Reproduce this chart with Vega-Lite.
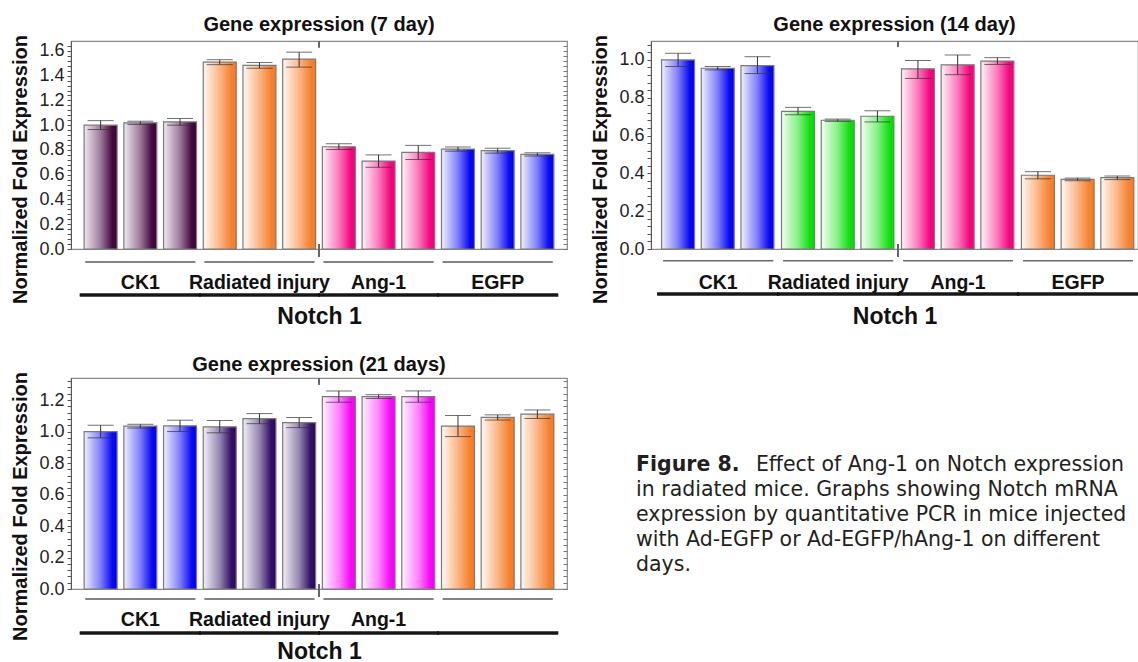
{
  "$schema": "https://vega.github.io/schema/vega-lite/v6.json",
  "background": "white",
  "padding": {"left": 10, "top": 13, "right": 0, "bottom": 0},
  "config": {
    "font": "Liberation Sans",
    "view": {"stroke": "#8a8a8a", "strokeWidth": 1.2},
    "axis": {"grid": false, "labelFont": "Liberation Sans", "titleFont": "Liberation Sans"},
    "title": {"fontSize": 20, "fontWeight": "bold", "color": "#111111", "offset": 0, "frame": "group", "font": "Liberation Sans"}
  },
  "datasets": {
    "d7": [
      {"group": "CK1", "rep": "1", "v": 1.0, "lo": 0.965, "hi": 1.037, "color": "plum"},
      {"group": "CK1", "rep": "2", "v": 1.019, "lo": 1.006, "hi": 1.032, "color": "plum"},
      {"group": "CK1", "rep": "3", "v": 1.026, "lo": 1.0, "hi": 1.054, "color": "plum"},
      {"group": "Radiated injury", "rep": "1", "v": 1.509, "lo": 1.489, "hi": 1.529, "color": "orange"},
      {"group": "Radiated injury", "rep": "2", "v": 1.483, "lo": 1.46, "hi": 1.506, "color": "orange"},
      {"group": "Radiated injury", "rep": "3", "v": 1.533, "lo": 1.469, "hi": 1.59, "color": "orange"},
      {"group": "Ang-1", "rep": "1", "v": 0.826, "lo": 0.803, "hi": 0.85, "color": "pink"},
      {"group": "Ang-1", "rep": "2", "v": 0.71, "lo": 0.66, "hi": 0.76, "color": "pink"},
      {"group": "Ang-1", "rep": "3", "v": 0.78, "lo": 0.723, "hi": 0.837, "color": "pink"},
      {"group": "EGFP", "rep": "1", "v": 0.807, "lo": 0.79, "hi": 0.824, "color": "blue"},
      {"group": "EGFP", "rep": "2", "v": 0.794, "lo": 0.774, "hi": 0.814, "color": "blue"},
      {"group": "EGFP", "rep": "3", "v": 0.764, "lo": 0.751, "hi": 0.777, "color": "blue"}
    ],
    "d14": [
      {"group": "CK1", "rep": "1", "v": 1.0, "lo": 0.965, "hi": 1.035, "color": "blue"},
      {"group": "CK1", "rep": "2", "v": 0.956, "lo": 0.947, "hi": 0.965, "color": "blue"},
      {"group": "CK1", "rep": "3", "v": 0.97, "lo": 0.928, "hi": 1.017, "color": "blue"},
      {"group": "Radiated injury", "rep": "1", "v": 0.728, "lo": 0.71, "hi": 0.749, "color": "green"},
      {"group": "Radiated injury", "rep": "2", "v": 0.681, "lo": 0.675, "hi": 0.687, "color": "green"},
      {"group": "Radiated injury", "rep": "3", "v": 0.702, "lo": 0.672, "hi": 0.731, "color": "green"},
      {"group": "Ang-1", "rep": "1", "v": 0.953, "lo": 0.902, "hi": 0.997, "color": "pink"},
      {"group": "Ang-1", "rep": "2", "v": 0.974, "lo": 0.922, "hi": 1.026, "color": "pink"},
      {"group": "Ang-1", "rep": "3", "v": 0.994, "lo": 0.976, "hi": 1.012, "color": "pink"},
      {"group": "EGFP", "rep": "1", "v": 0.39, "lo": 0.371, "hi": 0.409, "color": "orange"},
      {"group": "EGFP", "rep": "2", "v": 0.368, "lo": 0.361, "hi": 0.375, "color": "orange"},
      {"group": "EGFP", "rep": "3", "v": 0.377, "lo": 0.367, "hi": 0.386, "color": "orange"}
    ],
    "d21": [
      {"group": "CK1", "rep": "1", "v": 1.0, "lo": 0.96, "hi": 1.04, "color": "blue"},
      {"group": "CK1", "rep": "2", "v": 1.034, "lo": 1.022, "hi": 1.046, "color": "blue"},
      {"group": "CK1", "rep": "3", "v": 1.036, "lo": 1.0, "hi": 1.072, "color": "blue"},
      {"group": "Radiated injury", "rep": "1", "v": 1.03, "lo": 0.992, "hi": 1.07, "color": "indigo"},
      {"group": "Radiated injury", "rep": "2", "v": 1.082, "lo": 1.05, "hi": 1.114, "color": "indigo"},
      {"group": "Radiated injury", "rep": "3", "v": 1.057, "lo": 1.025, "hi": 1.089, "color": "indigo"},
      {"group": "Ang-1", "rep": "1", "v": 1.222, "lo": 1.186, "hi": 1.258, "color": "magenta"},
      {"group": "Ang-1", "rep": "2", "v": 1.222, "lo": 1.21, "hi": 1.234, "color": "magenta"},
      {"group": "Ang-1", "rep": "3", "v": 1.222, "lo": 1.186, "hi": 1.258, "color": "magenta"},
      {"group": "EGFP", "rep": "1", "v": 1.035, "lo": 0.968, "hi": 1.102, "color": "orange"},
      {"group": "EGFP", "rep": "2", "v": 1.09, "lo": 1.073, "hi": 1.106, "color": "orange"},
      {"group": "EGFP", "rep": "3", "v": 1.11, "lo": 1.083, "hi": 1.137, "color": "orange"}
    ],
    "caption": [
      {"line": 1, "side": "left", "w": "bold", "text": "Figure 8."},
      {"line": 1, "side": "right", "w": "normal", "text": "Effect of Ang-1 on Notch expression"},
      {"line": 2, "side": "left", "w": "normal", "text": "in radiated mice. Graphs showing Notch mRNA"},
      {"line": 3, "side": "left", "w": "normal", "text": "expression by quantitative PCR in mice injected"},
      {"line": 4, "side": "left", "w": "normal", "text": "with Ad-EGFP or Ad-EGFP/hAng-1 on different"},
      {"line": 5, "side": "left", "w": "normal", "text": "days."}
    ]
  },
  "spacing": 23,
  "vconcat": [
    {
      "spacing": 21,
      "hconcat": [
        {
          "width": 496, "height": 208,
          "title": {"text": "Gene expression (7 day)", "offset": 0},
          "data": {"name": "d7"},
          "encoding": {
            "x": {"field": "group", "type": "nominal", "sort": null,
              "scale": {"paddingInner": 0, "paddingOuter": 0.082},
              "axis": {"title": "Notch 1", "titleFontSize": 23, "titleFontWeight": "bold", "titleColor": "#111111", "titlePadding": 14,
                "labelFontSize": 19.5, "labelFontWeight": "bold", "labelColor": "#111111", "labelPadding": 24, "labelAngle": 0,
                "domain": false, "ticks": false, "tickSize": 0}}
          },
          "layer": [
            {"mark": {"type": "bar", "stroke": "#7a7a7a", "strokeWidth": 1.2},
             "encoding": {
               "xOffset": {"field": "rep", "type": "nominal", "scale": {"paddingInner": 0.17, "paddingOuter": 0.085}},
               "y": {"field": "v", "type": "quantitative", "scale": {"domain": [0, 1.68], "nice": false},
                 "axis": {"orient": "left", "title": "Normalized Fold Expression", "titleFontSize": 20, "titleFontWeight": "bold", "titleColor": "#111111", "titlePadding": 8, "titleY": 128,
                   "values": [0,0.04,0.08,0.12,0.16,0.2,0.24,0.28,0.32,0.36,0.4,0.44,0.48,0.52,0.56,0.6,0.64,0.68,0.72,0.76,0.8,0.84,0.88,0.92,0.96,1,1.04,1.08,1.12,1.16,1.2,1.24,1.28,1.32,1.36,1.4,1.44,1.48,1.52,1.56,1.6,1.64],
                   "labelExpr": "abs(datum.value*5-round(datum.value*5))<0.001 ? format(datum.value,'.1f') : ''",
                   "labelOverlap": false, "labelFontSize": 18, "labelColor": "#222222", "labelPadding": 3,
                   "tickSize": 4, "tickColor": "#555555", "domainColor": "#555555"}},
               "fill": {"condition": [
                 {"test": "datum.color==='plum'", "value": {"gradient": "linear", "x1": 0, "y1": 0, "x2": 1, "y2": 0, "stops": [{"offset": 0, "color": "#f1eaf1"}, {"offset": 0.5, "color": "#9b7a99"}, {"offset": 0.85, "color": "#45093f"}, {"offset": 1, "color": "#3a0535"}]}},
                 {"test": "datum.color==='orange'", "value": {"gradient": "linear", "x1": 0, "y1": 0, "x2": 1, "y2": 0, "stops": [{"offset": 0, "color": "#fff8f2"}, {"offset": 0.5, "color": "#fcb585"}, {"offset": 0.85, "color": "#f7822f"}, {"offset": 1, "color": "#f47a28"}]}},
                 {"test": "datum.color==='pink'", "value": {"gradient": "linear", "x1": 0, "y1": 0, "x2": 1, "y2": 0, "stops": [{"offset": 0, "color": "#fff2f8"}, {"offset": 0.5, "color": "#ff79bb"}, {"offset": 0.85, "color": "#f5087f"}, {"offset": 1, "color": "#f00078"}]}}
               ], "value": {"gradient": "linear", "x1": 0, "y1": 0, "x2": 1, "y2": 0, "stops": [{"offset": 0, "color": "#f0f0ff"}, {"offset": 0.5, "color": "#7d7dff"}, {"offset": 0.85, "color": "#0a0af5"}, {"offset": 1, "color": "#0000ee"}]}}
             }},
            {"mark": {"type": "rule", "color": "#333333", "strokeWidth": 1},
             "encoding": {
               "xOffset": {"field": "rep", "type": "nominal", "scale": {"paddingInner": 0.17, "paddingOuter": 0.085}},
               "y": {"field": "lo", "type": "quantitative", "scale": {"domain": [0, 1.68], "nice": false},
                 "axis": {"orient": "right", "title": null, "labels": false, "domain": false, "tickSize": -4, "tickColor": "#777777",
                   "values": [0,0.04,0.08,0.12,0.16,0.2,0.24,0.28,0.32,0.36,0.4,0.44,0.48,0.52,0.56,0.6,0.64,0.68,0.72,0.76,0.8,0.84,0.88,0.92,0.96,1,1.04,1.08,1.12,1.16,1.2,1.24,1.28,1.32,1.36,1.4,1.44,1.48,1.52,1.56,1.6,1.64]}},
               "y2": {"field": "hi"}
             }},
            {"mark": {"type": "tick", "color": "#333333", "thickness": 1, "size": 26},
             "encoding": {
               "xOffset": {"field": "rep", "type": "nominal", "scale": {"paddingInner": 0.17, "paddingOuter": 0.085}},
               "y": {"field": "lo", "type": "quantitative", "scale": {"domain": [0, 1.68], "nice": false}, "axis": null}
             }},
            {"mark": {"type": "tick", "color": "#333333", "thickness": 1, "size": 26},
             "encoding": {
               "xOffset": {"field": "rep", "type": "nominal", "scale": {"paddingInner": 0.17, "paddingOuter": 0.085}},
               "y": {"field": "hi", "type": "quantitative", "scale": {"domain": [0, 1.68], "nice": false}, "axis": null}
             }},
            {"mark": {"type": "tick", "color": "#555555", "thickness": 1, "size": 110},
             "encoding": {"y": {"datum": -0.105, "type": "quantitative", "scale": {"domain": [0, 1.68], "nice": false}, "axis": null}}},
            {"mark": {"type": "tick", "color": "#111111", "thickness": 3, "size": 121},
             "encoding": {"y": {"datum": -0.372, "type": "quantitative", "scale": {"domain": [0, 1.68], "nice": false}, "axis": null}}},
            {"mark": {"type": "rule", "color": "#666666", "strokeWidth": 1},
             "encoding": {"x": {"datum": "Ang-1", "type": "nominal", "bandPosition": 0},
               "y": {"datum": 1.68, "type": "quantitative", "scale": {"domain": [0, 1.68], "nice": false}, "axis": null}, "y2": {"datum": 1.63}}},
            {"mark": {"type": "rule", "color": "#666666", "strokeWidth": 1},
             "encoding": {"x": {"datum": "Ang-1", "type": "nominal", "bandPosition": 0},
               "y": {"datum": 0.04, "type": "quantitative", "scale": {"domain": [0, 1.68], "nice": false}, "axis": null}, "y2": {"datum": -0.06}}}
          ],
          "resolve": {"axis": {"y": "independent"}}
        },
        {
          "width": 487, "height": 208,
          "title": {"text": "Gene expression (14 day)", "offset": 0},
          "data": {"name": "d14"},
          "encoding": {
            "x": {"field": "group", "type": "nominal", "sort": null,
              "scale": {"paddingInner": 0, "paddingOuter": 0.03, "align": 1},
              "axis": {"title": "Notch 1", "titleFontSize": 23, "titleFontWeight": "bold", "titleColor": "#111111", "titlePadding": 14,
                "labelFontSize": 19.5, "labelFontWeight": "bold", "labelColor": "#111111", "labelPadding": 24, "labelAngle": 0,
                "domain": false, "ticks": false, "tickSize": 0}}
          },
          "layer": [
            {"mark": {"type": "bar", "stroke": "#7a7a7a", "strokeWidth": 1.2},
             "encoding": {
               "xOffset": {"field": "rep", "type": "nominal", "scale": {"paddingInner": 0.17, "paddingOuter": 0.085}},
               "y": {"field": "v", "type": "quantitative", "scale": {"domain": [0, 1.1], "nice": false},
                 "axis": {"orient": "left", "title": "Normalized Fold Expression", "titleFontSize": 20, "titleFontWeight": "bold", "titleColor": "#111111", "titlePadding": 8, "titleY": 128,
                   "values": [0,0.04,0.08,0.12,0.16,0.2,0.24,0.28,0.32,0.36,0.4,0.44,0.48,0.52,0.56,0.6,0.64,0.68,0.72,0.76,0.8,0.84,0.88,0.92,0.96,1,1.04,1.08],
                   "labelExpr": "abs(datum.value*5-round(datum.value*5))<0.001 ? format(datum.value,'.1f') : ''",
                   "labelOverlap": false, "labelFontSize": 18, "labelColor": "#222222", "labelPadding": 3,
                   "tickSize": 4, "tickColor": "#555555", "domainColor": "#555555"}},
               "fill": {"condition": [
                 {"test": "datum.color==='green'", "value": {"gradient": "linear", "x1": 0, "y1": 0, "x2": 1, "y2": 0, "stops": [{"offset": 0, "color": "#f0fff0"}, {"offset": 0.5, "color": "#84f284"}, {"offset": 0.85, "color": "#12e012"}, {"offset": 1, "color": "#00dc00"}]}},
                 {"test": "datum.color==='orange'", "value": {"gradient": "linear", "x1": 0, "y1": 0, "x2": 1, "y2": 0, "stops": [{"offset": 0, "color": "#fff8f2"}, {"offset": 0.5, "color": "#fcb585"}, {"offset": 0.85, "color": "#f7822f"}, {"offset": 1, "color": "#f47a28"}]}},
                 {"test": "datum.color==='pink'", "value": {"gradient": "linear", "x1": 0, "y1": 0, "x2": 1, "y2": 0, "stops": [{"offset": 0, "color": "#fff2f8"}, {"offset": 0.5, "color": "#ff79bb"}, {"offset": 0.85, "color": "#f5087f"}, {"offset": 1, "color": "#f00078"}]}}
               ], "value": {"gradient": "linear", "x1": 0, "y1": 0, "x2": 1, "y2": 0, "stops": [{"offset": 0, "color": "#f0f0ff"}, {"offset": 0.5, "color": "#7d7dff"}, {"offset": 0.85, "color": "#0a0af5"}, {"offset": 1, "color": "#0000ee"}]}}
             }},
            {"mark": {"type": "rule", "color": "#333333", "strokeWidth": 1},
             "encoding": {
               "xOffset": {"field": "rep", "type": "nominal", "scale": {"paddingInner": 0.17, "paddingOuter": 0.085}},
               "y": {"field": "lo", "type": "quantitative", "scale": {"domain": [0, 1.1], "nice": false}, "axis": null},
               "y2": {"field": "hi"}
             }},
            {"mark": {"type": "tick", "color": "#333333", "thickness": 1, "size": 26},
             "encoding": {
               "xOffset": {"field": "rep", "type": "nominal", "scale": {"paddingInner": 0.17, "paddingOuter": 0.085}},
               "y": {"field": "lo", "type": "quantitative", "scale": {"domain": [0, 1.1], "nice": false}, "axis": null}
             }},
            {"mark": {"type": "tick", "color": "#333333", "thickness": 1, "size": 26},
             "encoding": {
               "xOffset": {"field": "rep", "type": "nominal", "scale": {"paddingInner": 0.17, "paddingOuter": 0.085}},
               "y": {"field": "hi", "type": "quantitative", "scale": {"domain": [0, 1.1], "nice": false}, "axis": null}
             }},
            {"mark": {"type": "tick", "color": "#555555", "thickness": 1, "size": 110},
             "encoding": {"y": {"datum": -0.062, "type": "quantitative", "scale": {"domain": [0, 1.1], "nice": false}, "axis": null}}},
            {"mark": {"type": "tick", "color": "#111111", "thickness": 3, "size": 122},
             "encoding": {"y": {"datum": -0.238, "type": "quantitative", "scale": {"domain": [0, 1.1], "nice": false}, "axis": null}}},
            {"mark": {"type": "rule", "color": "#666666", "strokeWidth": 1},
             "encoding": {"x": {"datum": "Ang-1", "type": "nominal", "bandPosition": 0},
               "y": {"datum": 1.1, "type": "quantitative", "scale": {"domain": [0, 1.1], "nice": false}, "axis": null}, "y2": {"datum": 1.07}}},
            {"mark": {"type": "rule", "color": "#666666", "strokeWidth": 1},
             "encoding": {"x": {"datum": "Ang-1", "type": "nominal", "bandPosition": 0},
               "y": {"datum": 0.025, "type": "quantitative", "scale": {"domain": [0, 1.1], "nice": false}, "axis": null}, "y2": {"datum": -0.04}}}
          ],
          "resolve": {"axis": {"y": "independent"}}
        }
      ]
    },
    {
      "spacing": 67,
      "hconcat": [
        {
          "width": 496, "height": 211,
          "title": {"text": "Gene expression (21 days)", "offset": -3},
          "data": {"name": "d21"},
          "encoding": {
            "x": {"field": "group", "type": "nominal", "sort": null,
              "scale": {"paddingInner": 0, "paddingOuter": 0.082},
              "axis": {"title": "Notch 1", "titleFontSize": 23, "titleFontWeight": "bold", "titleColor": "#111111", "titlePadding": 12,
                "labelExpr": "datum.value==='EGFP' ? '' : datum.value",
                "labelFontSize": 19.5, "labelFontWeight": "bold", "labelColor": "#111111", "labelPadding": 21, "labelAngle": 0,
                "domain": false, "ticks": false, "tickSize": 0}}
          },
          "layer": [
            {"mark": {"type": "bar", "stroke": "#7a7a7a", "strokeWidth": 1.2},
             "encoding": {
               "xOffset": {"field": "rep", "type": "nominal", "scale": {"paddingInner": 0.17, "paddingOuter": 0.085}},
               "y": {"field": "v", "type": "quantitative", "scale": {"domain": [0, 1.34], "nice": false},
                 "axis": {"orient": "left", "title": "Normalized Fold Expression", "titleFontSize": 20, "titleFontWeight": "bold", "titleColor": "#111111", "titlePadding": 8, "titleY": 128,
                   "values": [0,0.04,0.08,0.12,0.16,0.2,0.24,0.28,0.32,0.36,0.4,0.44,0.48,0.52,0.56,0.6,0.64,0.68,0.72,0.76,0.8,0.84,0.88,0.92,0.96,1,1.04,1.08,1.12,1.16,1.2,1.24,1.28,1.32],
                   "labelExpr": "abs(datum.value*5-round(datum.value*5))<0.001 ? format(datum.value,'.1f') : ''",
                   "labelOverlap": false, "labelFontSize": 18, "labelColor": "#222222", "labelPadding": 3,
                   "tickSize": 4, "tickColor": "#555555", "domainColor": "#555555"}},
               "fill": {"condition": [
                 {"test": "datum.color==='indigo'", "value": {"gradient": "linear", "x1": 0, "y1": 0, "x2": 1, "y2": 0, "stops": [{"offset": 0, "color": "#f3eff7"}, {"offset": 0.5, "color": "#9486ae"}, {"offset": 0.85, "color": "#32106a"}, {"offset": 1, "color": "#2a0a5c"}]}},
                 {"test": "datum.color==='orange'", "value": {"gradient": "linear", "x1": 0, "y1": 0, "x2": 1, "y2": 0, "stops": [{"offset": 0, "color": "#fff8f2"}, {"offset": 0.5, "color": "#fcb585"}, {"offset": 0.85, "color": "#f7822f"}, {"offset": 1, "color": "#f47a28"}]}},
                 {"test": "datum.color==='magenta'", "value": {"gradient": "linear", "x1": 0, "y1": 0, "x2": 1, "y2": 0, "stops": [{"offset": 0, "color": "#fff2ff"}, {"offset": 0.5, "color": "#ff82ff"}, {"offset": 0.85, "color": "#f80af8"}, {"offset": 1, "color": "#f200f2"}]}}
               ], "value": {"gradient": "linear", "x1": 0, "y1": 0, "x2": 1, "y2": 0, "stops": [{"offset": 0, "color": "#f0f0ff"}, {"offset": 0.5, "color": "#7d7dff"}, {"offset": 0.85, "color": "#0a0af5"}, {"offset": 1, "color": "#0000ee"}]}}
             }},
            {"mark": {"type": "rule", "color": "#333333", "strokeWidth": 1},
             "encoding": {
               "xOffset": {"field": "rep", "type": "nominal", "scale": {"paddingInner": 0.17, "paddingOuter": 0.085}},
               "y": {"field": "lo", "type": "quantitative", "scale": {"domain": [0, 1.34], "nice": false},
                 "axis": {"orient": "right", "title": null, "labels": false, "domain": false, "tickSize": -4, "tickColor": "#777777",
                   "values": [0,0.04,0.08,0.12,0.16,0.2,0.24,0.28,0.32,0.36,0.4,0.44,0.48,0.52,0.56,0.6,0.64,0.68,0.72,0.76,0.8,0.84,0.88,0.92,0.96,1,1.04,1.08,1.12,1.16,1.2,1.24,1.28,1.32]}},
               "y2": {"field": "hi"}
             }},
            {"mark": {"type": "tick", "color": "#333333", "thickness": 1, "size": 26},
             "encoding": {
               "xOffset": {"field": "rep", "type": "nominal", "scale": {"paddingInner": 0.17, "paddingOuter": 0.085}},
               "y": {"field": "lo", "type": "quantitative", "scale": {"domain": [0, 1.34], "nice": false}, "axis": null}
             }},
            {"mark": {"type": "tick", "color": "#333333", "thickness": 1, "size": 26},
             "encoding": {
               "xOffset": {"field": "rep", "type": "nominal", "scale": {"paddingInner": 0.17, "paddingOuter": 0.085}},
               "y": {"field": "hi", "type": "quantitative", "scale": {"domain": [0, 1.34], "nice": false}, "axis": null}
             }},
            {"mark": {"type": "tick", "color": "#555555", "thickness": 1, "size": 110},
             "encoding": {"y": {"datum": -0.064, "type": "quantitative", "scale": {"domain": [0, 1.34], "nice": false}, "axis": null}}},
            {"mark": {"type": "tick", "color": "#111111", "thickness": 3, "size": 121},
             "encoding": {"y": {"datum": -0.279, "type": "quantitative", "scale": {"domain": [0, 1.34], "nice": false}, "axis": null}}},
            {"mark": {"type": "rule", "color": "#666666", "strokeWidth": 1},
             "encoding": {"x": {"datum": "Ang-1", "type": "nominal", "bandPosition": 0},
               "y": {"datum": 1.34, "type": "quantitative", "scale": {"domain": [0, 1.34], "nice": false}, "axis": null}, "y2": {"datum": 1.3}}},
            {"mark": {"type": "rule", "color": "#666666", "strokeWidth": 1},
             "encoding": {"x": {"datum": "Ang-1", "type": "nominal", "bandPosition": 0},
               "y": {"datum": 0.03, "type": "quantitative", "scale": {"domain": [0, 1.34], "nice": false}, "axis": null}, "y2": {"datum": -0.05}}}
          ],
          "resolve": {"axis": {"y": "independent"}}
        },
        {
          "width": 488, "height": 230,
          "view": {"stroke": null},
          "data": {"name": "caption"},
          "layer": [
            {"transform": [{"filter": "datum.w==='bold'"}],
             "mark": {"type": "text", "align": "left", "baseline": "middle", "font": "DejaVu Sans", "fontSize": 20.5, "fontWeight": "bold", "color": "#231f20"},
             "encoding": {
               "x": {"field": "side", "type": "nominal", "scale": {"type": "point", "domain": ["left", "right"], "padding": 0}, "axis": null},
               "y": {"field": "line", "type": "quantitative", "scale": {"domain": [-2.48, 6.72], "reverse": true, "nice": false, "zero": false}, "axis": null},
               "text": {"field": "text"}}},
            {"transform": [{"filter": "datum.w==='normal' && datum.side==='left'"}],
             "mark": {"type": "text", "align": "left", "baseline": "middle", "font": "DejaVu Sans", "fontSize": 20.5, "color": "#231f20"},
             "encoding": {
               "x": {"field": "side", "type": "nominal", "scale": {"type": "point", "domain": ["left", "right"], "padding": 0}, "axis": null},
               "y": {"field": "line", "type": "quantitative", "scale": {"domain": [-2.48, 6.72], "reverse": true, "nice": false, "zero": false}, "axis": null},
               "text": {"field": "text"}}},
            {"transform": [{"filter": "datum.w==='normal' && datum.side==='right'"}],
             "mark": {"type": "text", "align": "right", "baseline": "middle", "font": "DejaVu Sans", "fontSize": 20.5, "color": "#231f20"},
             "encoding": {
               "x": {"field": "side", "type": "nominal", "scale": {"type": "point", "domain": ["left", "right"], "padding": 0}, "axis": null},
               "y": {"field": "line", "type": "quantitative", "scale": {"domain": [-2.48, 6.72], "reverse": true, "nice": false, "zero": false}, "axis": null},
               "text": {"field": "text"}}}
          ]
        }
      ]
    }
  ]
}
